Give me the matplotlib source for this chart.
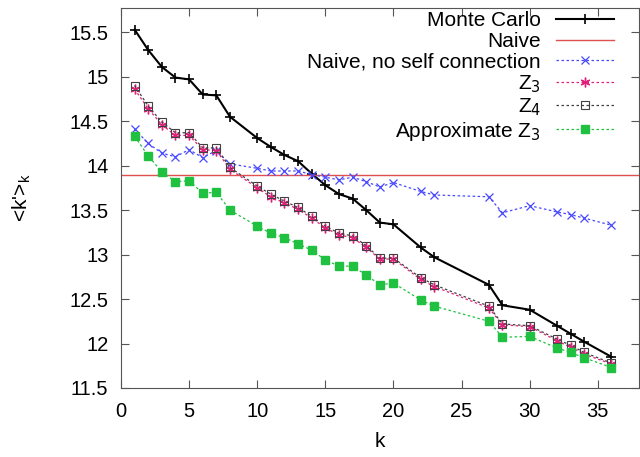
import matplotlib.pyplot as plt
from matplotlib.ticker import FormatStrFormatter, MultipleLocator

plt.rcParams["font.family"] = ["Liberation Sans", "DejaVu Sans"]

# k values sampled
k = [1, 2, 3, 4, 5, 6, 7, 8, 10, 11, 12, 13, 14, 15, 16, 17, 18, 19, 20,
     22, 23, 27, 28, 30, 32, 33, 34, 36]

monte_carlo = [15.53, 15.30, 15.11, 14.99, 14.97, 14.80, 14.79, 14.55, 14.31,
               14.21, 14.12, 14.05, 13.91, 13.78, 13.68, 13.63, 13.50, 13.36,
               13.34, 13.08, 12.97, 12.66, 12.43, 12.38, 12.20, 12.11, 12.02,
               11.85]
naive = 13.895
naive_noself = [14.41, 14.25, 14.14, 14.10, 14.18, 14.09, 14.17, 14.02, 13.97,
                13.94, 13.94, 13.94, 13.90, 13.87, 13.84, 13.87, 13.82, 13.76,
                13.81, 13.71, 13.67, 13.65, 13.47, 13.55, 13.48, 13.45, 13.41,
                13.33]
z4 = [14.90, 14.67, 14.49, 14.37, 14.37, 14.20, 14.20, 13.98, 13.77, 13.68,
      13.60, 13.53, 13.43, 13.32, 13.24, 13.21, 13.10, 12.96, 12.96, 12.74,
      12.66, 12.42, 12.22, 12.20, 12.05, 11.98, 11.90, 11.78]
z3 = [14.86, 14.64, 14.46, 14.34, 14.34, 14.18, 14.17, 13.96, 13.75, 13.65,
      13.58, 13.51, 13.41, 13.30, 13.22, 13.19, 13.08, 12.95, 12.95, 12.72,
      12.64, 12.40, 12.21, 12.19, 12.03, 11.96, 11.88, 11.77]
approx_z3 = [14.33, 14.11, 13.93, 13.82, 13.83, 13.69, 13.70, 13.50, 13.32,
             13.24, 13.19, 13.12, 13.05, 12.94, 12.87, 12.87, 12.77, 12.66,
             12.68, 12.49, 12.42, 12.25, 12.07, 12.08, 11.95, 11.90, 11.84,
             11.73]

fig = plt.figure(figsize=(6.4, 4.57), dpi=100)
ax = fig.add_axes([0.189, 0.151, 0.809, 0.831])

ax.plot(k, monte_carlo, color="black", lw=1.5, marker="+", ms=7, mew=1.2,
        label="Monte Carlo")
ax.axhline(naive, color="#e05050", lw=1.0, label="Naive")
ax.plot(k, naive_noself, color="#4848ff", lw=0.9, ls=(0, (2, 2)), marker="x",
        ms=6, mew=0.9, label="Naive, no self connection")
ax.plot(k, z3, color="#e0207a", lw=0.9, ls=(0, (2, 2)), marker=(6, 2, 0),
        ms=7, mew=1.0, label="Z$_3$")
ax.plot(k, z4, color="#404040", lw=0.9, ls=(0, (2, 2)), marker="s", ms=6,
        mfc="none", mew=0.8, label="Z$_4$")
ax.plot(k, approx_z3, color="#20c040", lw=0.9, ls=(0, (2, 2)), marker="s",
        ms=6, mec="#20c040", label="Approximate Z$_3$")

ax.set_xlim(0, 38)
ax.set_ylim(11.5, 15.77)
ax.xaxis.set_major_locator(MultipleLocator(5))
ax.yaxis.set_major_locator(MultipleLocator(0.5))
ax.yaxis.set_major_formatter(FormatStrFormatter("%g"))
ax.tick_params(direction="in", top=True, right=True, labelsize=14.5, length=6,
               color="#555555")
ax.tick_params(axis="x", pad=10)
ax.tick_params(axis="y", pad=9)
for s in ax.spines.values():
    s.set_color("#555555")

ax.set_xlabel("k", fontsize=15, labelpad=8)
ax.set_ylabel("<k'>$_\\mathregular{k}$", fontsize=15, labelpad=26)

leg = ax.legend(loc="upper right", bbox_to_anchor=(0.954, 0.995),
                frameon=False, markerfirst=False, fontsize=15,
                handlelength=2.8, labelspacing=0.08, borderaxespad=0,
                borderpad=0.05, handletextpad=0.7)
for t in leg.get_texts():
    t.set_ha("right")
    t.set_position((0, 0))
leg._legend_box.align = "right"

fig.savefig("out.png", dpi=100)
